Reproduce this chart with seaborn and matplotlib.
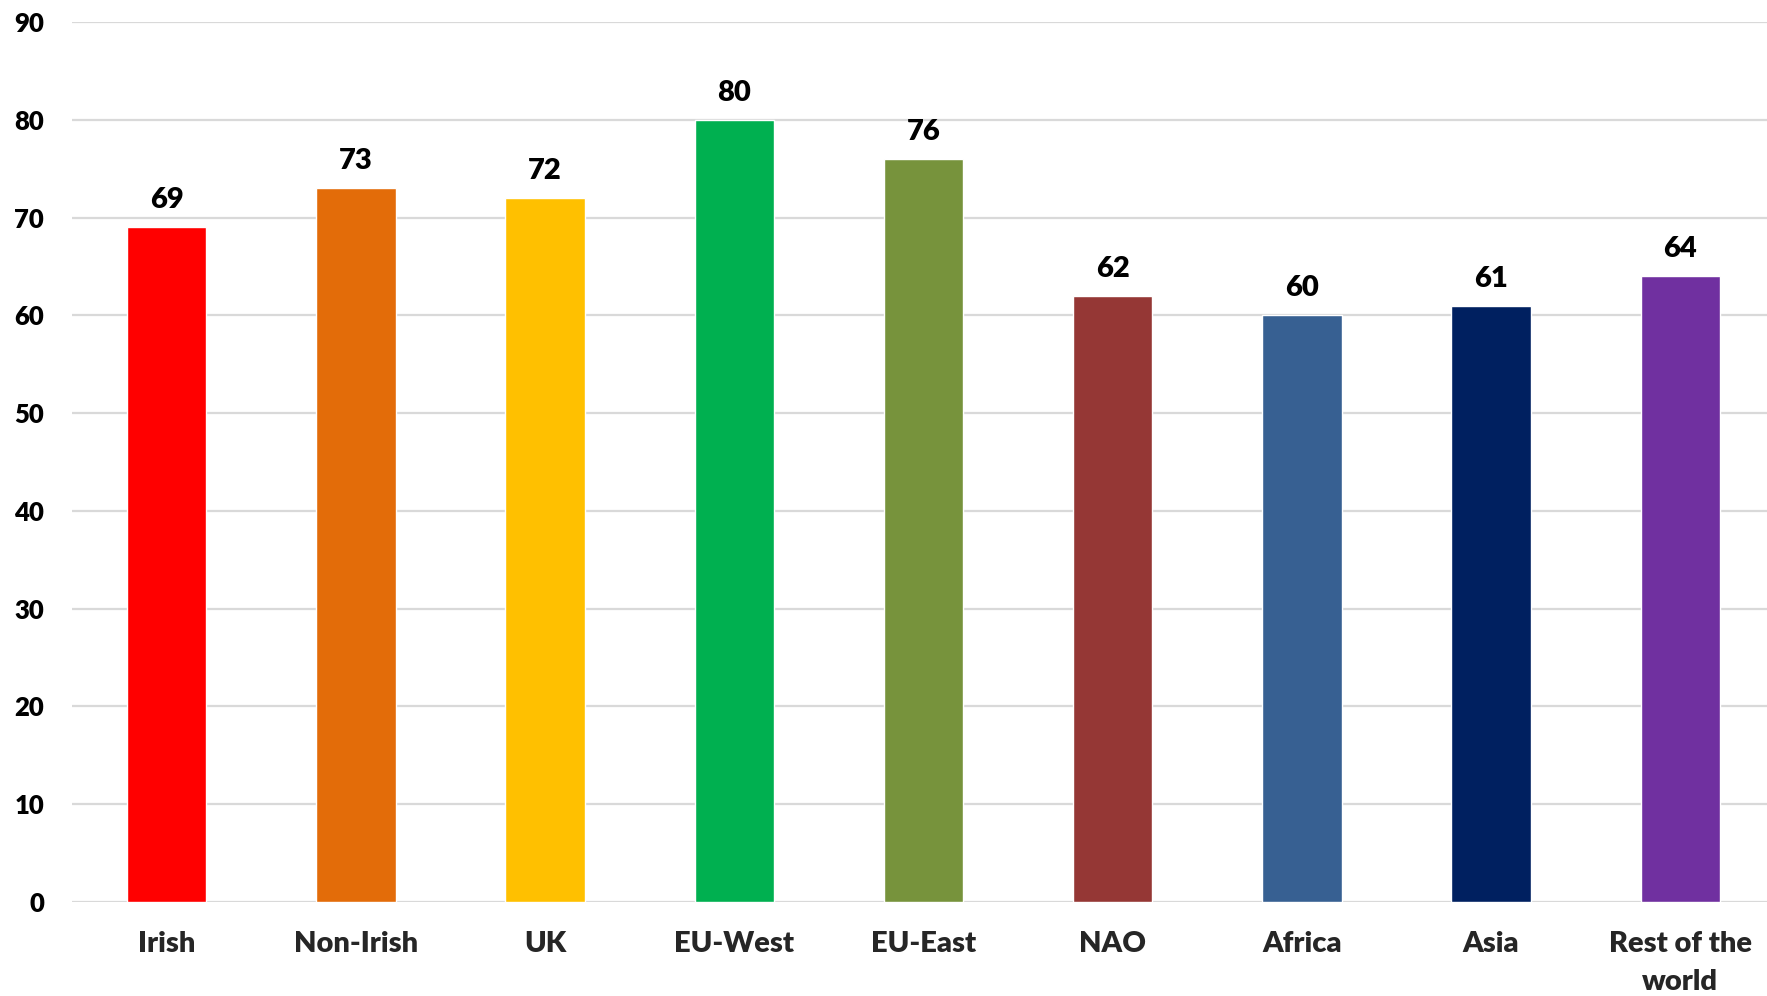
import matplotlib
matplotlib.use("Agg")
import matplotlib.pyplot as plt
import seaborn as sns
import pandas as pd

categories = ["Irish", "Non-Irish", "UK", "EU-West", "EU-East", "NAO", "Africa", "Asia", "Rest of the\nworld"]
values = [69, 73, 72, 80, 76, 62, 60, 61, 64]
colors = ["#FF0000", "#E36C09", "#FFC000", "#00B050", "#77933C", "#953735", "#376092", "#002060", "#7030A0"]
yticks = [0, 10, 20, 30, 40, 50, 60, 70, 80, 90]

sns.set_theme(style="white")
plt.rcParams['font.family'] = ['Lato', 'DejaVu Sans']

df = pd.DataFrame({"category": categories, "value": values})

fig = plt.figure(figsize=(17.67, 9.96), dpi=100)
ax = fig.add_axes([72/1767, 94/996, 1703/1767, 880/996])
sns.barplot(data=df, x="category", y="value", hue="category", palette=colors,
            width=0.42, legend=False, ax=ax, saturation=1)

ax.set_ylim(0, 90)
ax.set_xlim(-0.5, len(categories) - 0.5)
ax.set_yticks(yticks)
ax.set_yticklabels([str(t) for t in yticks], fontsize=18.5, fontweight="heavy", color="black")
ax.tick_params(axis="y", length=0, pad=20)
ax.tick_params(axis="x", length=0, pad=21, labelsize=21)
for lab in ax.get_xticklabels():
    lab.set_fontweight("heavy")
    lab.set_verticalalignment("top")
    lab.set_linespacing(1.58)
ax.set_xlabel("")
ax.set_ylabel("")
ax.yaxis.grid(True, color="#D9D9D9", linewidth=1.6)
ax.set_axisbelow(True)
for s in ax.spines.values():
    s.set_visible(False)

for c in ax.containers:
    ax.bar_label(c, fmt="%d", padding=10, fontsize=21, fontweight="heavy", color="black")

fig.savefig("out.png", dpi=100, facecolor="white")
